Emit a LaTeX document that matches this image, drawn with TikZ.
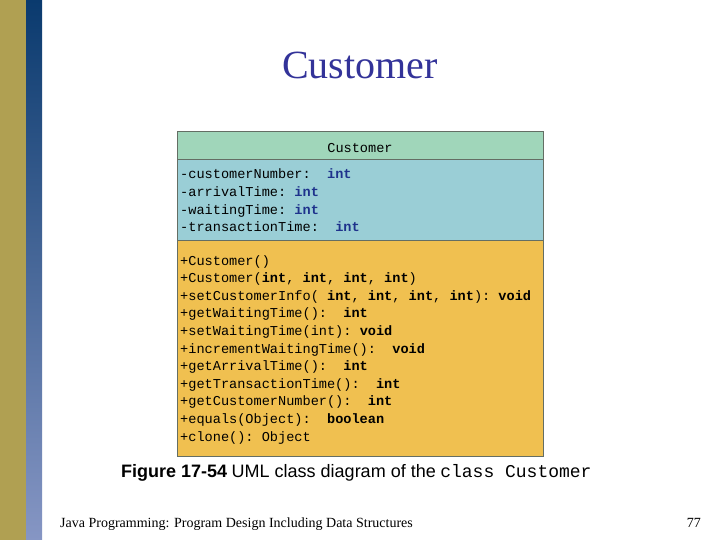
\documentclass[tikz,border=0pt]{standalone}
\usepackage{fontspec}
\setmainfont{Liberation Serif}
\setsansfont{Liberation Sans}
\setmonofont{Liberation Mono}
\usetikzlibrary{positioning}

\definecolor{stripolive}{RGB}{176,160,82}
\definecolor{stripdark}{RGB}{10,58,110}
\definecolor{striplight}{RGB}{134,150,196}
\definecolor{titleblue}{RGB}{51,51,153}
\definecolor{hdgreen}{RGB}{160,214,186}
\definecolor{attrblue}{RGB}{154,206,214}
\definecolor{methorange}{RGB}{240,192,80}
\definecolor{boxline}{RGB}{100,110,100}
\definecolor{typeblue}{RGB}{30,50,140}

\newcommand{\aty}[1]{\textcolor{typeblue}{\textbf{#1}}}
\newcommand{\mty}[1]{\textbf{#1}}

\begin{document}
\begin{tikzpicture}[x=1pt,y=-1pt,
    member/.style={anchor=base west, inner sep=0pt,
      font=\ttfamily\fontsize{13.6}{16}\selectfont},
    section/.style={draw=boxline, line width=1pt}]
  \useasboundingbox (0,0) rectangle (720,540);

  % slide strips on the left
  \fill[stripolive] (0,0) rectangle (26,540);
  \shade[top color=stripdark, bottom color=striplight] (26,0) rectangle (42,540);

  \node[font=\fontsize{40}{44}\selectfont, text=titleblue, anchor=base]
    (title) at (360,79) {Customer};

  % class box
  \filldraw[section, fill=hdgreen] (177,132) rectangle (543,160);
  \filldraw[section, fill=attrblue] (177,160) rectangle (543,240);
  \filldraw[section, fill=methorange] (177,240) rectangle (543,456);

  \node[member, anchor=base] (cname) at (360,153) {Customer};

  \foreach \txt [count=\i from 0] in {
      {-customerNumber:\ \ \aty{int}},
      {-arrivalTime:\ \aty{int}},
      {-waitingTime:\ \aty{int}},
      {-transactionTime:\ \ \aty{int}}}
    \node[member] (attr\i) at (180,{179+17.6*\i}) {\txt};

  \foreach \txt [count=\i from 0] in {
      {+Customer()},
      {+Customer(\mty{int}, \mty{int}, \mty{int}, \mty{int})},
      {+setCustomerInfo( \mty{int}, \mty{int}, \mty{int}, \mty{int}): \mty{void}},
      {+getWaitingTime():\ \ \mty{int}},
      {+setWaitingTime(int):\ \mty{void}},
      {+incrementWaitingTime():\ \ \mty{void}},
      {+getArrivalTime():\ \ \mty{int}},
      {+getTransactionTime():\ \ \mty{int}},
      {+getCustomerNumber():\ \ \mty{int}},
      {+equals(Object):\ \ \mty{boolean}},
      {+clone(): Object}}
    \node[member] (meth\i) at (180,{265+17.6*\i}) {\txt};

  \node[anchor=base west, inner sep=0pt, font=\fontsize{18}{20}\selectfont]
    (caption) at (121,477)
    {{\sffamily\bfseries Figure 17-54} {\sffamily UML class diagram of the} {\ttfamily class Customer}};

  \node[anchor=base west, inner sep=0pt, font=\fontsize{14}{16}\selectfont]
    (footer) at (60,527) {Java Programming: Program Design Including Data Structures};
  \node[anchor=base east, inner sep=0pt, font=\fontsize{14}{16}\selectfont]
    (pagenum) at (701,527) {77};
\end{tikzpicture}
\end{document}
